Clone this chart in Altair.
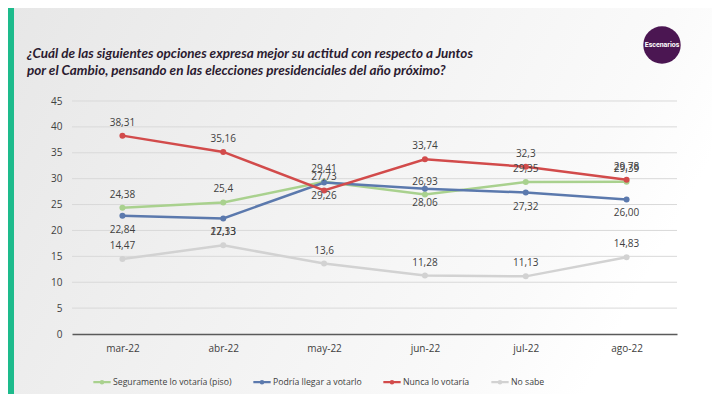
import altair as alt
import pandas as pd

months = ["mar-22", "abr-22", "may-22", "jun-22", "jul-22", "ago-22"]
series = ["Seguramente lo votaría (piso)", "Podría llegar a votarlo", "Nunca lo votaría", "No sabe"]
seguramente = [24.38, 25.4, 29.41, 26.93, 29.35, 29.39]
podria = [22.84, 22.33, 29.26, 28.06, 27.32, 26.00]
nunca = [38.31, 35.16, 27.73, 33.74, 32.3, 29.78]
no_sabe = [14.47, 17.13, 13.6, 11.28, 11.13, 14.83]
y_ticks = [0, 5, 10, 15, 20, 25, 30, 35, 40, 45]
colors = ["#a9d18e", "#5b79ad", "#d24b4b", "#d2d2d2"]
title_line1 = "¿Cuál de las siguientes opciones expresa mejor su actitud con respecto a Juntos"
title_line2 = " por el Cambio, pensando en las elecciones presidenciales del año próximo?"


def fmt(v):
    s = f"{v:.2f}".rstrip("0").rstrip(".") if v != int(v) else f"{v:.2f}"
    return s.replace(".", ",")


rows = []
for name, vals in zip(series, [seguramente, podria, nunca, no_sabe]):
    for m, v in zip(months, vals):
        rows.append({"month": m, "series": name, "value": v, "label": fmt(v)})
df = pd.DataFrame(rows)

FONT = "Open Sans"
W, H = 605, 233
PL, PT = 64, 93
PB = 396 - 10 - PT - H
y_scale = alt.Scale(domain=[0, 45])

x_enc = alt.X("month:N", sort=months, scale=alt.Scale(padding=0.5), title=None,
              axis=alt.Axis(labelAngle=0, labelFontSize=10, labelColor="#404040",
                            labelPadding=9, ticks=False, domainColor="#5a5a5a",
                            domainWidth=1.3, grid=False, labelFont=FONT, zindex=1))
y_enc = alt.Y("value:Q", scale=y_scale, title=None,
              axis=alt.Axis(values=y_ticks, labelFontSize=10, labelOverlap=False,
                            labelColor="#404040", labelPadding=10, ticks=False,
                            domain=False, grid=False, labelFont=FONT, zindex=1))
color_scale = alt.Scale(domain=series, range=colors)

one = pd.DataFrame({"a": [0]})

bg = alt.Chart(one).mark_rect(
    color=alt.Gradient(gradient="linear", x1=0, x2=1, y1=0, y2=0.3,
                       stops=[alt.GradientStop(color="#e7e7e7", offset=0),
                              alt.GradientStop(color="#fafafa", offset=0.85),
                              alt.GradientStop(color="#ffffff", offset=1)])
).encode(x=alt.value(-PL), x2=alt.value(720 - PL), y=alt.value(-PT), y2=alt.value(400 - PT))

bar = alt.Chart(one).mark_rect(color="#1dbb8c").encode(
    x=alt.value(-PL), x2=alt.value(-PL + 6), y=alt.value(-PT), y2=alt.value(400 - PT))

logo = alt.Chart(one).mark_circle(color="#4b1652", opacity=1, size=1400).encode(
    x=alt.value(662 - 8 - PL), y=alt.value(45 - 8 - PT))
logo_t = alt.Chart(pd.DataFrame({"t": ["Escenarios"]})).mark_text(
    color="white", fontSize=7, fontWeight="bold", font="Roboto").encode(
    x=alt.value(662 - 8 - PL), y=alt.value(45 - 8 - PT), text="t:N")

tstyle = dict(align="left", baseline="alphabetic", fontSize=13.5, fontWeight="bold",
              fontStyle="italic", font="Lato", color="#2b1b30")
t1 = alt.Chart(pd.DataFrame({"t": [title_line1]})).mark_text(**tstyle).encode(
    x=alt.value(27 - 8 - PL), y=alt.value(58 - 8 - PT), text="t:N")
t2 = alt.Chart(pd.DataFrame({"t": [title_line2]})).mark_text(**tstyle).encode(
    x=alt.value(27 - 8 - PL), y=alt.value(75 - 8 - PT), text="t:N")

grid = alt.Chart(pd.DataFrame({"value": y_ticks[1:]})).mark_rule(color="#d9d9d9", strokeWidth=1).encode(
    y=y_enc)

base = alt.Chart(df)
lines = base.mark_line(strokeWidth=2.5).encode(
    x=x_enc, y=y_enc,
    color=alt.Color("series:N", scale=color_scale, sort=series, title=None,
                    legend=alt.Legend(orient="none", legendX=20, legendY=271, direction="horizontal",
                                      symbolType="M-1,0L1,0M0.14,0A0.14,0.14,0,1,1,-0.14,0A0.14,0.14,0,1,1,0.14,0",
                                      symbolSize=300, symbolStrokeWidth=2.2, labelFontSize=8.7,
                                      labelColor="#404040", labelFont=FONT, columnPadding=16,
                                      labelOffset=1, padding=0)))
points = base.mark_point(filled=True, size=36, opacity=1).encode(
    x=x_enc, y=y_enc, color=alt.Color("series:N", scale=color_scale, legend=None))

txt_style = dict(fontSize=10, color="#404040", font=FONT)
above = base.mark_text(dy=-13, **txt_style).encode(x=x_enc, y=y_enc, text="label:N").transform_filter(
    alt.FieldOneOfPredicate(field="series", oneOf=[series[0], series[2], series[3]]))
below = base.mark_text(dy=14, **txt_style).encode(x=x_enc, y=y_enc, text="label:N").transform_filter(
    alt.FieldEqualPredicate(field="series", equal=series[1]))

chart = alt.layer(bg, bar, logo, logo_t, t1, t2, grid, lines, points, above, below).properties(
    width=W, height=H, autosize=alt.AutoSizeParams(type="none"),
    padding={"left": PL, "top": PT, "right": 720 - 16 - PL - W, "bottom": PB},
).configure_view(stroke=None).configure(background="#ffffff")

chart.save("out.html", embed_options={"renderer": "svg", "actions": False})
